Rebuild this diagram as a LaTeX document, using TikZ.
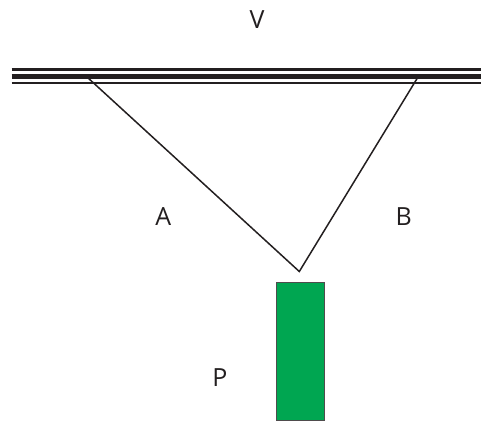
\documentclass[tikz,border=0pt]{standalone}
\usepackage{fontspec}
\setmainfont{Open Sans}
\definecolor{ink}{HTML}{231F20}
\definecolor{pgreen}{HTML}{00A651}
\begin{document}
\begin{tikzpicture}[x=1pt,y=-1pt,
  lbl/.style={inner sep=0pt,font=\fontsize{25}{30}\selectfont,text=ink},
  rail/.style={draw=ink},
  leg/.style={draw=ink,line width=1.5pt,line join=miter},
  pbox/.style={draw=ink!80,fill=pgreen,line width=1.5pt,minimum width=48pt,minimum height=138pt,inner sep=0pt,anchor=north west}]
\useasboundingbox (0,0) rectangle (481,421);
% rails
\coordinate (r1l) at (11.7,69.5); \coordinate (r1r) at (481,69.5);
\coordinate (r2l) at (11.7,76.2); \coordinate (r2r) at (481,76.2);
\coordinate (r3l) at (11.7,83.2); \coordinate (r3r) at (481,83.2);
\draw[rail,line width=2.3pt] (r1l) -- (r1r);
\draw[rail,line width=5pt] (r2l) -- (r2r);
\draw[rail,line width=2.3pt] (r3l) -- (r3r);
% legs
\coordinate (ta) at (87,77);
\coordinate (tb) at (418,77);
\coordinate (apex) at (299.3,271.5);
\draw[leg] (ta) -- (apex) -- (tb);
% box
\node[pbox] (P) at (275.5,281.5) {};
% labels
\node[lbl] (lV) at (257,19.7) {V};
\node[lbl] (lA) at (163.3,217) {A};
\node[lbl] (lB) at (403.8,217) {B};
\node[lbl] (lP) at (220,377.5) {P};
\end{tikzpicture}
\end{document}
